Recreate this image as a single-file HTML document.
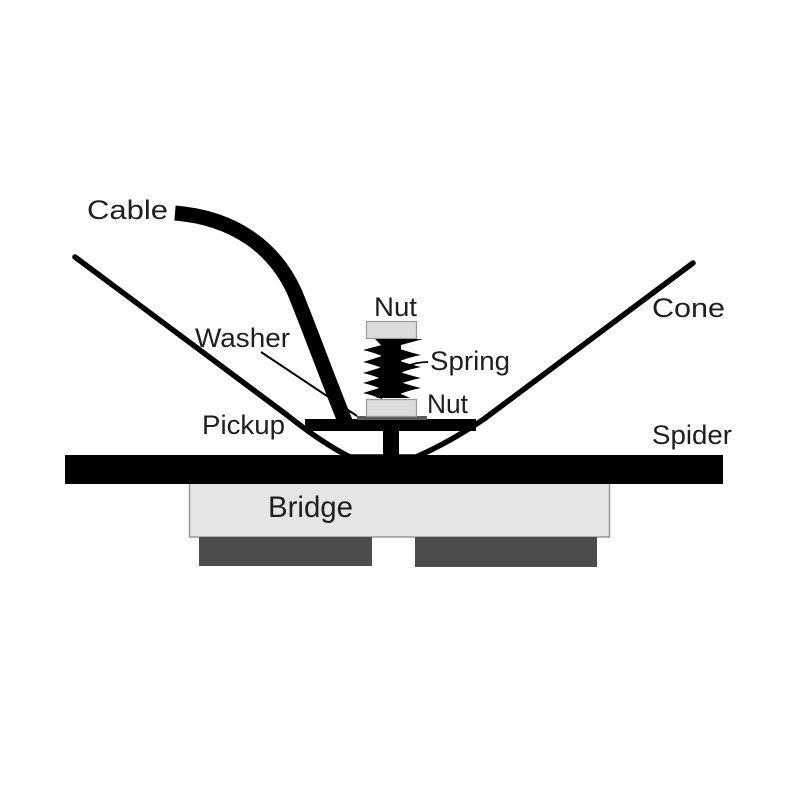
<!DOCTYPE html>
<html>
<head>
<meta charset="utf-8">
<style>
  html, body { margin: 0; padding: 0; background: #fff; }
  svg { display: block; }
  text { font-family: "Liberation Sans", sans-serif; fill: #1e1e1e; }
</style>
</head>
<body>
<svg width="800" height="800" viewBox="0 0 800 800" xmlns="http://www.w3.org/2000/svg">
  <rect x="0" y="0" width="800" height="800" fill="#fff"/>

  <!-- Bridge -->
  <rect x="189.5" y="483" width="420" height="54" fill="#e5e5e5" stroke="#9a9a9a" stroke-width="1.5"/>
  <rect x="199" y="537" width="173" height="29" fill="#4c4c4c"/>
  <rect x="415" y="537" width="182" height="30" fill="#4c4c4c"/>

  <!-- Spider -->
  <rect x="65" y="455" width="658" height="29" fill="#000"/>

  <!-- Cone -->
  <path d="M75,257 L287,415 Q322,443 350,457 L416,457 Q450,442 484,419 L693,263"
        fill="none" stroke="#000" stroke-width="5.5" stroke-linecap="round" stroke-linejoin="round"/>

  <!-- Center post -->
  <rect x="383" y="428" width="16" height="28" fill="#000"/>

  <!-- Pickup plate -->
  <rect x="305" y="419" width="171" height="12" fill="#000"/>
  <!-- Washer -->
  <rect x="357" y="416" width="70" height="4" fill="#5a5a5a"/>

  <!-- Nuts -->
  <rect x="366.5" y="321.5" width="50" height="17" fill="#dcdcdc" stroke="#9a9a9a" stroke-width="1.2"/>
  <rect x="366.5" y="399.5" width="50" height="17" fill="#dcdcdc" stroke="#9a9a9a" stroke-width="1.2"/>

  <!-- Spring body -->
  <rect x="381" y="339" width="20" height="59" fill="#000"/>
  <!-- top plate -->
  <path d="M375,339 L423,339 L401,345 L381,345 Z" fill="#000"/>
  <!-- left teeth -->
  <path d="M382,345 Q370,348 363,350 Q372,352 382,356 Z" fill="#000"/>
  <path d="M382,356 Q370,360 363,362 Q372,364 382,368 Z" fill="#000"/>
  <path d="M382,367 Q370,371 363,373 Q372,375 382,379 Z" fill="#000"/>
  <path d="M382,377 Q370,381 363,383 Q372,385 382,389 Z" fill="#000"/>
  <path d="M382,387 Q370,391 363,393 Q372,395 382,399 Z" fill="#000"/>
  <!-- right teeth -->
  <path d="M400,349 Q412,353 421,355 Q410,357 400,361 Z" fill="#000"/>
  <path d="M400,361 Q412,365 421,367 Q410,369 400,373 Z" fill="#000"/>
  <path d="M400,372 Q412,376 421,378 Q410,380 400,384 Z" fill="#000"/>
  <path d="M400,382 Q412,386 421,388 Q410,390 400,394 Z" fill="#000"/>
  <!-- bottom plate -->
  <path d="M376,398 L381,394 L401,394 L410,398 Z" fill="#000"/>

  <!-- Spring leader -->
  <path d="M428,362 Q416,362 405,367" fill="none" stroke="#000" stroke-width="1.8"/>

  <!-- Cable -->
  <path d="M175,213 C235,218 275,248 295,293 C312,335 332,390 347,426"
        fill="none" stroke="#000" stroke-width="15" stroke-linecap="butt"/>

  <!-- Washer leader -->
  <line x1="261" y1="352" x2="357" y2="416" stroke="#000" stroke-width="2"/>

  <!-- Labels -->
  <text x="87" y="219" font-size="27" textLength="81" lengthAdjust="spacingAndGlyphs">Cable</text>
  <text x="195" y="347" font-size="27" textLength="95" lengthAdjust="spacingAndGlyphs">Washer</text>
  <text x="202" y="434" font-size="27" textLength="83" lengthAdjust="spacingAndGlyphs">Pickup</text>
  <text x="374" y="316" font-size="27" textLength="43" lengthAdjust="spacingAndGlyphs">Nut</text>
  <text x="430" y="370" font-size="27" textLength="80" lengthAdjust="spacingAndGlyphs">Spring</text>
  <text x="427" y="413" font-size="27" textLength="41" lengthAdjust="spacingAndGlyphs">Nut</text>
  <text x="652" y="317" font-size="27" textLength="73" lengthAdjust="spacingAndGlyphs">Cone</text>
  <text x="652" y="444" font-size="27" textLength="80" lengthAdjust="spacingAndGlyphs">Spider</text>
  <text x="268" y="517" font-size="30" textLength="85" lengthAdjust="spacingAndGlyphs">Bridge</text>
</svg>
</body>
</html>
